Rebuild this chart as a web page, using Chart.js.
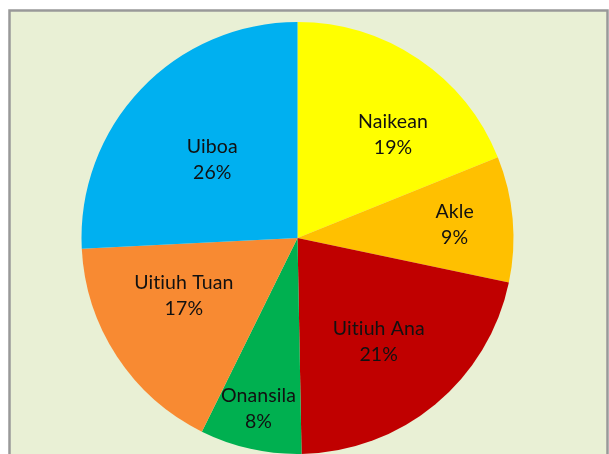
<!DOCTYPE html>
<html>
<head>
<meta charset="utf-8">
<script src="https://cdn.jsdelivr.net/npm/chart.js@4/dist/chart.umd.min.js"></script>
<style>
    html, body { margin: 0; padding: 0; background: #ffffff; }
    #wrap { position: relative; width: 609px; height: 454px; }
</style>
</head>
<body>
<div id="wrap"><canvas id="pie" width="609" height="454"></canvas></div>
<script>
// ========================================
// Pie data (clockwise from 12 o'clock)
// ========================================
const sliceNames = ['Naikean', 'Akle', 'Uitiuh Ana', 'Onansila', 'Uitiuh Tuan', 'Uiboa'];
// shares; labels show them rounded
const sliceValues = [18.9, 9.4, 21.4, 7.6, 16.9, 25.8];
const sliceColors = ['#FFFF00', '#FFC000', '#C00000', '#00B050', '#F88A32', '#00B0F0'];

// Label placement inside each slice (Excel "best fit" look):
// position along the slice's sweep (0..1) and distance out (fraction of radius)
const labelSweep = [0.63, 0.51, 0.52, 0.51, 0.605, 0.49];
const labelRadius = [0.65, 0.73, 0.61, 0.81, 0.59, 0.536];

// Background panel + grey frame, like the Excel chart area
const framePlugin = {
    id: 'frame',
    beforeDraw(chart) {
        const ctx = chart.ctx;
        ctx.save();
        ctx.fillStyle = '#ffffff';
        ctx.fillRect(0, 0, chart.width, chart.height);
        ctx.fillStyle = '#E9F0D5';
        ctx.fillRect(10, 11, 597, chart.height);
        ctx.strokeStyle = '#999999';
        ctx.lineWidth = 2.5;
        ctx.strokeRect(9.5, 10.5, 598, chart.height + 10);
        ctx.restore();
    }
};

// Two-line labels: name + percent
const sliceLabelPlugin = {
    id: 'sliceLabels',
    afterDatasetsDraw(chart) {
        const ctx = chart.ctx;
        const meta = chart.getDatasetMeta(0);
        const total = sliceValues.reduce((a, b) => a + b, 0);
        ctx.save();
        ctx.fillStyle = '#111111';
        ctx.font = '19.5px Lato, "Open Sans", sans-serif';
        ctx.letterSpacing = '0.1px'; // keeps Lato from joining "ti"
        ctx.textAlign = 'center';
        ctx.textBaseline = 'middle';
        meta.data.forEach((arc, i) => {
            const p = arc.getProps(['x', 'y', 'startAngle', 'endAngle', 'outerRadius'], true);
            const ang = p.startAngle + (p.endAngle - p.startAngle) * labelSweep[i];
            const r = p.outerRadius * labelRadius[i];
            const cx = p.x + Math.cos(ang) * r;
            const cy = p.y + Math.sin(ang) * r;
            const pct = Math.round(sliceValues[i] / total * 100);
            ctx.fillText(sliceNames[i], cx, cy - 13);
            ctx.fillText(pct + '%', cx, cy + 13);
        });
        ctx.restore();
    }
};

const ctx = document.getElementById('pie').getContext('2d');
new Chart(ctx, {
    type: 'pie',
    data: {
        labels: sliceNames,
        datasets: [{
            data: sliceValues,
            backgroundColor: sliceColors,
            borderWidth: 0
        }]
    },
    options: {
        responsive: false,
        animation: false,
        layout: {
            padding: { top: 22, bottom: 0, left: 81, right: 95 }
        },
        plugins: {
            legend: { display: false },
            tooltip: { enabled: false }
        }
    },
    plugins: [framePlugin, sliceLabelPlugin]
});
</script>
</body>
</html>
